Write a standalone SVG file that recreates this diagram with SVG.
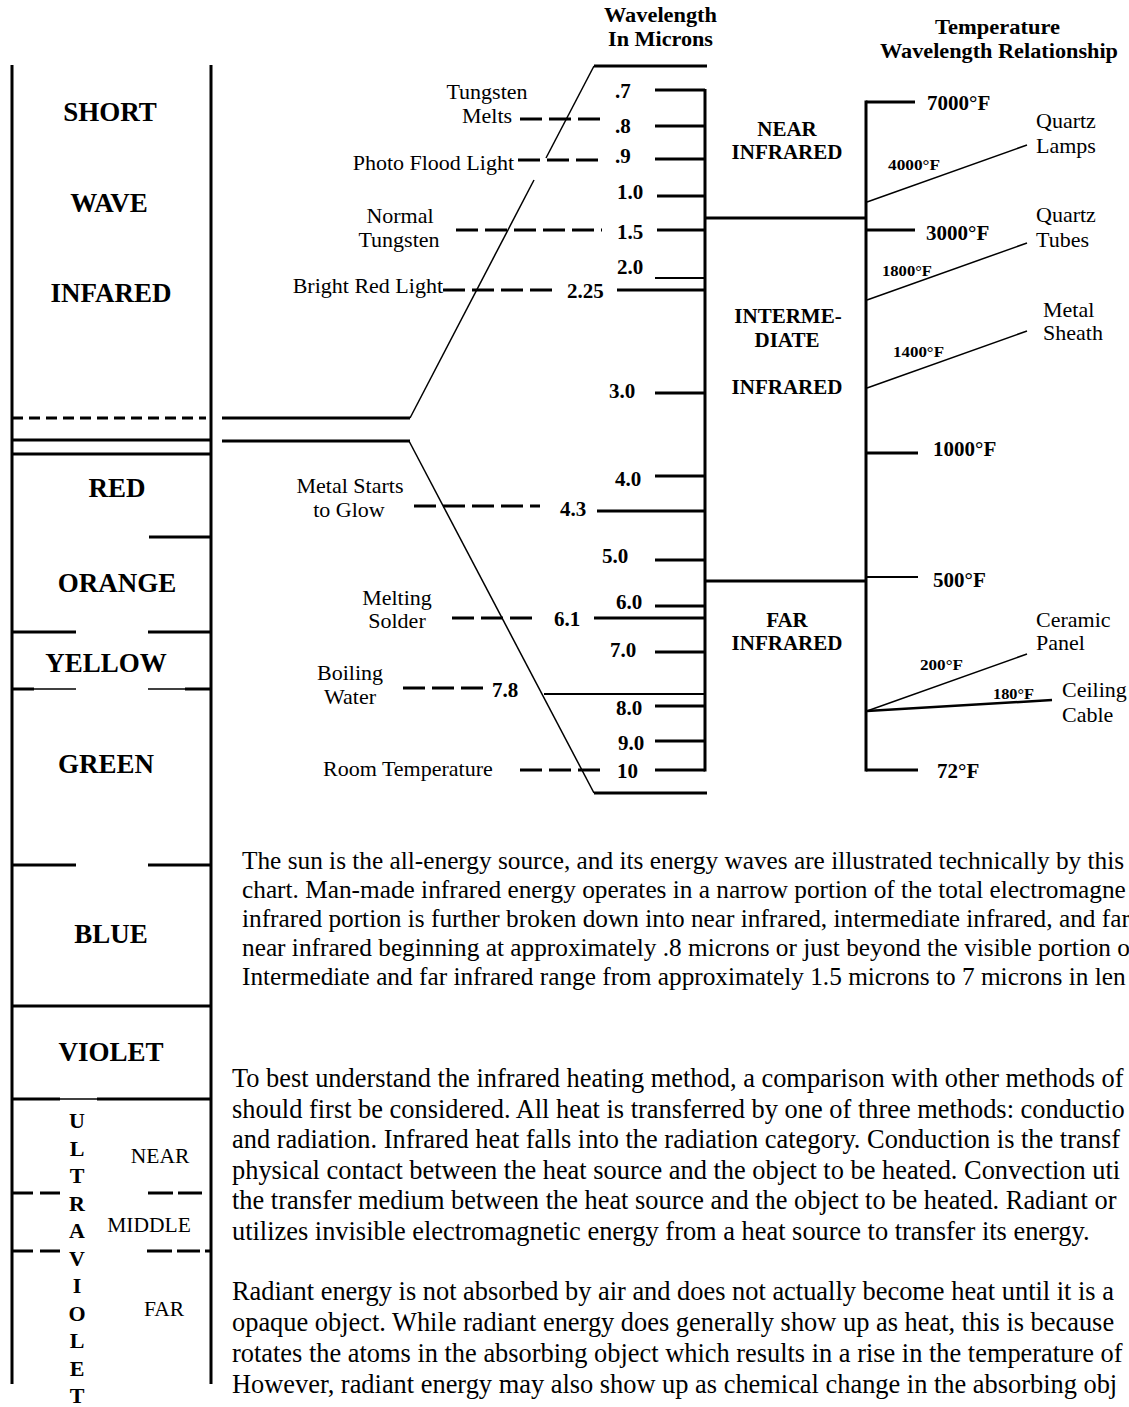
<svg xmlns="http://www.w3.org/2000/svg" width="1129" height="1407" viewBox="0 0 1129 1407">
<style>
.s{stroke:#000;stroke-width:3;fill:none}
.s2{stroke:#000;stroke-width:2.2;fill:none}
.s1{stroke:#000;stroke-width:1.5;fill:none}
.d{stroke-dasharray:22 7}
.dc{stroke-dasharray:11 6}
text{font-family:"Liberation Serif","Times New Roman",serif;fill:#000}
.band{font-size:27px;font-weight:bold;text-anchor:middle}
.uv{font-size:22px;font-weight:bold;text-anchor:middle}
.uvs{font-size:21.5px;text-anchor:middle}
.lab{font-size:22px}
.mid{text-anchor:middle}
.end{text-anchor:end}
.num{font-size:21px;font-weight:bold}
.reg{font-size:21px;font-weight:bold;text-anchor:middle}
.hdr{font-size:21px;font-weight:bold}
.tmp{font-size:21px;font-weight:bold}
.stmp{font-size:15px;font-weight:bold}
.p1{font-size:25.3px}
.p2{font-size:26.4px}
</style>
<rect width="1129" height="1407" fill="#fff"/>

<g id="spectrum-column">
<line class="s" x1="12" y1="65" x2="12" y2="1384"/>
<line class="s" x1="211" y1="65" x2="211" y2="1384"/>
<line class="s dc" x1="12" y1="418" x2="206" y2="418"/>
<line class="s" x1="12" y1="440" x2="211" y2="440"/>
<line class="s" x1="12" y1="454" x2="211" y2="454"/>
<line class="s" x1="149" y1="537" x2="211" y2="537"/>
<line class="s" x1="12" y1="632" x2="76" y2="632"/>
<line class="s" x1="148" y1="632" x2="211" y2="632"/>
<line class="s" x1="12" y1="689" x2="34" y2="689"/>
<line class="s1" x1="34" y1="689" x2="76" y2="689"/>
<line class="s1" x1="148" y1="689" x2="185" y2="689"/>
<line class="s" x1="185" y1="689" x2="211" y2="689"/>
<line class="s" x1="12" y1="865" x2="76" y2="865"/>
<line class="s" x1="148" y1="865" x2="211" y2="865"/>
<line class="s" x1="12" y1="1006" x2="211" y2="1006"/>
<line class="s" x1="12" y1="1099" x2="60" y2="1099"/>
<line class="s1" x1="60" y1="1099" x2="97" y2="1099"/>
<line class="s" x1="97" y1="1099" x2="211" y2="1099"/>
<line class="s" x1="12" y1="1193" x2="33" y2="1193"/>
<line class="s" x1="40" y1="1193" x2="60" y2="1193"/>
<line class="s" x1="148" y1="1193" x2="173" y2="1193"/>
<line class="s" x1="178" y1="1193" x2="202" y2="1193"/>
<line class="s" x1="12" y1="1251" x2="33" y2="1251"/>
<line class="s" x1="40" y1="1251" x2="60" y2="1251"/>
<line class="s" x1="147" y1="1251" x2="172" y2="1251"/>
<line class="s" x1="177" y1="1251" x2="200" y2="1251"/>
<line class="s" x1="205" y1="1251" x2="211" y2="1251"/>
</g>

<g id="band-short-wave-infrared">
<text class="band" x="110" y="121">SHORT</text>
<text class="band" x="109" y="212">WAVE</text>
<text class="band" x="111" y="302">INFARED</text>
</g>
<g id="band-red"><text class="band" x="117" y="497">RED</text></g>
<g id="band-orange"><text class="band" x="117" y="592">ORANGE</text></g>
<g id="band-yellow"><text class="band" x="106" y="672">YELLOW</text></g>
<g id="band-green"><text class="band" x="106" y="773">GREEN</text></g>
<g id="band-blue"><text class="band" x="111" y="943">BLUE</text></g>
<g id="band-violet"><text class="band" x="111" y="1061">VIOLET</text></g>
<g id="band-ultraviolet">
<text class="uv" x="77" y="1128">U</text>
<text class="uv" x="77" y="1155.5">L</text>
<text class="uv" x="77" y="1183">T</text>
<text class="uv" x="77" y="1210.5">R</text>
<text class="uv" x="77" y="1238">A</text>
<text class="uv" x="77" y="1265.5">V</text>
<text class="uv" x="77" y="1293">I</text>
<text class="uv" x="77" y="1320.5">O</text>
<text class="uv" x="77" y="1348">L</text>
<text class="uv" x="77" y="1375.5">E</text>
<text class="uv" x="77" y="1403">T</text>
<text class="uvs" x="160" y="1163">NEAR</text>
<text class="uvs" x="149" y="1232">MIDDLE</text>
<text class="uvs" x="164" y="1316">FAR</text>
</g>

<g id="header-wavelength">
<text class="hdr" x="604" y="22" textLength="113" lengthAdjust="spacingAndGlyphs">Wavelength</text>
<text class="hdr" x="608" y="46" textLength="105" lengthAdjust="spacingAndGlyphs">In Microns</text>
</g>
<g id="header-temperature">
<text class="hdr" x="935" y="34" textLength="125" lengthAdjust="spacingAndGlyphs">Temperature</text>
<text class="hdr" x="880" y="58" textLength="238" lengthAdjust="spacingAndGlyphs">Wavelength Relationship</text>
</g>

<g id="wavelength-scale">
<line class="s" x1="705" y1="89" x2="705" y2="771.5"/>
<line class="s" x1="655" y1="90" x2="705" y2="90"/>
<line class="s" x1="655" y1="126" x2="705" y2="126"/>
<line class="s" x1="655" y1="159" x2="705" y2="159"/>
<line class="s" x1="657" y1="196" x2="705" y2="196"/>
<line class="s" x1="657" y1="230" x2="705" y2="230"/>
<line class="s2" x1="655" y1="278" x2="705" y2="278"/>
<line class="s" x1="617" y1="290" x2="705" y2="290"/>
<line class="s" x1="655" y1="393" x2="705" y2="393"/>
<line class="s" x1="655" y1="476" x2="705" y2="476"/>
<line class="s" x1="597" y1="511" x2="705" y2="511"/>
<line class="s" x1="655" y1="560" x2="705" y2="560"/>
<line class="s" x1="655" y1="606" x2="705" y2="606"/>
<line class="s" x1="594" y1="618" x2="705" y2="618"/>
<line class="s" x1="655" y1="652" x2="705" y2="652"/>
<line class="s2" x1="544" y1="694" x2="705" y2="694"/>
<line class="s" x1="655" y1="706" x2="705" y2="706"/>
<line class="s" x1="655" y1="741" x2="705" y2="741"/>
<line class="s" x1="655" y1="770" x2="705" y2="770"/>
<line class="s" x1="594" y1="66" x2="707" y2="66"/>
<line class="s" x1="594" y1="793" x2="707" y2="793"/>
<text class="num" x="615" y="98">.7</text>
<text class="num" x="615" y="133">.8</text>
<text class="num" x="615" y="163">.9</text>
<text class="num" x="617" y="199">1.0</text>
<text class="num" x="617" y="239">1.5</text>
<text class="num" x="617" y="274">2.0</text>
<text class="num" x="567" y="298">2.25</text>
<text class="num" x="609" y="398">3.0</text>
<text class="num" x="615" y="486">4.0</text>
<text class="num" x="560" y="516">4.3</text>
<text class="num" x="602" y="563">5.0</text>
<text class="num" x="616" y="609">6.0</text>
<text class="num" x="554" y="626">6.1</text>
<text class="num" x="610" y="657">7.0</text>
<text class="num" x="492" y="697">7.8</text>
<text class="num" x="616" y="715">8.0</text>
<text class="num" x="618" y="750">9.0</text>
<text class="num" x="617" y="778">10</text>
</g>

<g id="region-near-infrared">
<text class="reg" x="787" y="136">NEAR</text>
<text class="reg" x="787" y="159">INFRARED</text>
</g>
<g id="region-intermediate-infrared">
<text class="reg" x="788" y="323">INTERME-</text>
<text class="reg" x="787" y="347">DIATE</text>
<text class="reg" x="787" y="394">INFRARED</text>
</g>
<g id="region-far-infrared">
<text class="reg" x="787" y="627">FAR</text>
<text class="reg" x="787" y="650">INFRARED</text>
</g>

<g id="temperature-scale">
<line class="s" x1="866" y1="100.5" x2="866" y2="771.5"/>
<line class="s" x1="866" y1="102" x2="915" y2="102"/>
<line class="s" x1="866" y1="230" x2="915" y2="230"/>
<line class="s" x1="866" y1="453" x2="918" y2="453"/>
<line class="s2" x1="866" y1="577" x2="918" y2="577"/>
<line class="s" x1="866" y1="770" x2="918" y2="770"/>
<text class="tmp" x="927" y="110">7000°F</text>
<text class="tmp" x="926" y="240">3000°F</text>
<text class="tmp" x="933" y="456">1000°F</text>
<text class="tmp" x="933" y="587">500°F</text>
<text class="tmp" x="937" y="778">72°F</text>
</g>

<g id="source-tungsten-melts"><text class="lab mid" x="487" y="99">Tungsten</text><text class="lab mid" x="487" y="123">Melts</text></g>
<g id="source-photo-flood"><text class="lab end" x="514" y="170">Photo Flood Light</text></g>
<g id="source-normal-tungsten"><text class="lab mid" x="400" y="223">Normal</text><text class="lab mid" x="399" y="247">Tungsten</text></g>
<g id="source-bright-red"><text class="lab end" x="443" y="293">Bright Red Light</text></g>
<g id="source-metal-glow"><text class="lab mid" x="350" y="493">Metal Starts</text><text class="lab mid" x="349" y="517">to Glow</text></g>
<g id="source-melting-solder"><text class="lab mid" x="397" y="605">Melting</text><text class="lab mid" x="397" y="628">Solder</text></g>
<g id="source-boiling-water"><text class="lab mid" x="350" y="680">Boiling</text><text class="lab mid" x="350" y="704">Water</text></g>
<g id="source-room-temp"><text class="lab" x="323" y="776">Room Temperature</text></g>

<g id="heater-quartz-lamps"><text class="lab" x="1036" y="128">Quartz</text><text class="lab" x="1036" y="153">Lamps</text><text class="stmp" x="888" y="170" textLength="52" lengthAdjust="spacingAndGlyphs">4000°F</text></g>
<g id="heater-quartz-tubes"><text class="lab" x="1036" y="222">Quartz</text><text class="lab" x="1036" y="247">Tubes</text><text class="stmp" x="882" y="276" textLength="50" lengthAdjust="spacingAndGlyphs">1800°F</text></g>
<g id="heater-metal-sheath"><text class="lab" x="1043" y="317">Metal</text><text class="lab" x="1043" y="340">Sheath</text><text class="stmp" x="893" y="357" textLength="51" lengthAdjust="spacingAndGlyphs">1400°F</text></g>
<g id="heater-ceramic-panel"><text class="lab" x="1036" y="627">Ceramic</text><text class="lab" x="1036" y="650">Panel</text><text class="stmp" x="920" y="670" textLength="43" lengthAdjust="spacingAndGlyphs">200°F</text></g>
<g id="heater-ceiling-cable"><text class="lab" x="1062" y="697">Ceiling</text><text class="lab" x="1062" y="722">Cable</text><text class="stmp" x="993" y="699" textLength="41" lengthAdjust="spacingAndGlyphs">180°F</text></g>

<g id="connectors">
<line class="s" x1="222" y1="418" x2="410" y2="418"/>
<line class="s" x1="222" y1="441" x2="410" y2="441"/>
<line class="s1" x1="594" y1="66" x2="546" y2="158"/>
<line class="s1" x1="534" y1="180" x2="410" y2="418"/>
<line class="s1" x1="409" y1="441" x2="594" y2="793"/>
<line class="s d" x1="520" y1="119" x2="602" y2="119"/>
<line class="s d" x1="518" y1="160" x2="602" y2="160"/>
<line class="s d" x1="456" y1="230" x2="602" y2="230"/>
<line class="s d" x1="443" y1="290" x2="557" y2="290"/>
<line class="s d" x1="414" y1="506" x2="540" y2="506"/>
<line class="s d" x1="452" y1="618" x2="535" y2="618"/>
<line class="s d" x1="403" y1="688" x2="490" y2="688"/>
<line class="s d" x1="520" y1="770" x2="603" y2="770"/>
<line class="s" x1="705" y1="218" x2="866" y2="218"/>
<line class="s" x1="705" y1="581" x2="866" y2="581"/>
<line class="s1" x1="867" y1="202" x2="1027" y2="145"/>
<line class="s1" x1="867" y1="300" x2="1027" y2="243"/>
<line class="s1" x1="867" y1="388" x2="1027" y2="331"/>
<line class="s1" x1="867" y1="711" x2="1027" y2="654"/>
<line class="s" x1="867" y1="711" x2="1052" y2="700" style="stroke-width:2.5"/>
</g>

<g id="text-paragraph-1" class="p1">
<text x="242" y="869">The sun is the all-energy source, and its energy waves are illustrated technically by this</text>
<text x="242" y="898">chart. Man-made infrared energy operates in a narrow portion of the total electromagne</text>
<text x="242" y="927">infrared portion is further broken down into near infrared, intermediate infrared, and far</text>
<text x="242" y="956">near infrared beginning at approximately .8 microns or just beyond the visible portion o</text>
<text x="242" y="985">Intermediate and far infrared range from approximately 1.5 microns to 7 microns in len</text>
</g>
<g id="text-paragraph-2" class="p2">
<text x="232" y="1087">To best understand the infrared heating method, a comparison with other methods of</text>
<text x="232" y="1117.5">should first be considered. All heat is transferred by one of three methods: conductio</text>
<text x="232" y="1148">and radiation. Infrared heat falls into the radiation category. Conduction is the transf</text>
<text x="232" y="1178.5">physical contact between the heat source and the object to be heated. Convection uti</text>
<text x="232" y="1209">the transfer medium between the heat source and the object to be heated. Radiant or</text>
<text x="232" y="1239.5">utilizes invisible electromagnetic energy from a heat source to transfer its energy.</text>
</g>
<g id="text-paragraph-3" class="p2">
<text x="232" y="1300">Radiant energy is not absorbed by air and does not actually become heat until it is a</text>
<text x="232" y="1331">opaque object. While radiant energy does generally show up as heat, this is because</text>
<text x="232" y="1362">rotates the atoms in the absorbing object which results in a rise in the temperature of</text>
<text x="232" y="1393">However, radiant energy may also show up as chemical change in the absorbing obj</text>
</g>
</svg>
